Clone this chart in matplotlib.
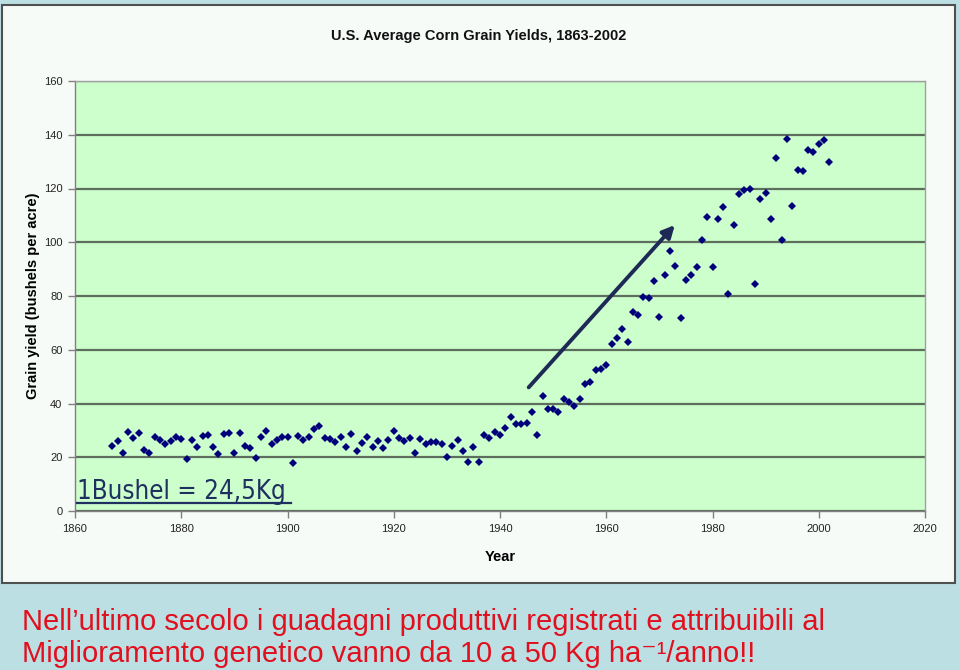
import matplotlib
matplotlib.use("Agg")
import matplotlib.pyplot as plt
from matplotlib.patches import Rectangle
from matplotlib.lines import Line2D
import numpy as np

# ---------------- data ----------------
years = list(range(1867, 2003))
yields = [
    24.2, 26.0, 21.5, 29.3, 27.0, 29.1, 22.7, 21.7, 27.4, 26.3,   # 1867-1876
    25.0, 25.9, 27.7, 26.9, 19.3, 26.3, 23.8, 28.0, 28.3, 23.8,   # 1877-1886
    21.3, 28.7, 28.9, 21.7, 29.0, 24.2, 23.4, 19.6, 27.7, 29.9,   # 1887-1896
    24.8, 26.3, 27.7, 27.7, 18.0, 28.0, 26.5, 27.7, 30.5, 31.6,   # 1897-1906
    27.0, 26.8, 25.7, 27.7, 23.8, 28.8, 22.4, 25.2, 27.7, 23.8,   # 1907-1916
    26.0, 23.4, 26.3, 29.6, 27.3, 25.9, 27.3, 21.7, 26.9, 25.1,   # 1917-1926
    25.8, 25.8, 25.1, 20.0, 24.2, 26.3, 22.4, 18.3, 23.8, 18.3,   # 1927-1936
    28.4, 27.3, 29.4, 28.4, 30.8, 35.0, 32.2, 32.5, 32.7, 36.7,   # 1937-1946
    28.4, 42.7, 37.8, 37.8, 36.7, 41.7, 40.6, 39.2, 41.7, 47.1,   # 1947-1956
    47.9, 52.5, 52.8, 54.4, 62.0, 64.5, 67.7, 62.8, 73.9, 72.8,   # 1957-1966
    79.7, 79.4, 85.7, 72.2, 87.8, 96.7, 91.3, 71.8, 86.1, 87.8,   # 1967-1976
    90.7, 101.0, 109.4, 90.9, 108.7, 113.1, 80.9, 106.4, 118.0, 119.4,  # 1977-1986
    119.8, 84.3, 116.2, 118.5, 108.7, 131.5, 100.7, 138.4, 113.5, 127.0,  # 1987-1996
    126.6, 134.3, 133.6, 136.7, 138.0, 129.9,                        # 1997-2002
]
assert len(years) == len(yields)

x_ticks = [1860, 1880, 1900, 1920, 1940, 1960, 1980, 2000, 2020]
y_ticks = [0, 20, 40, 60, 80, 100, 120, 140, 160]

arrow_start = (1945.4, 46.0)
arrow_end = (1972.9, 106.4)

title = "U.S. Average Corn Grain Yields, 1863-2002"
x_label = "Year"
y_label = "Grain yield (bushels per acre)"
note = "1Bushel = 24,5Kg"
caption1 = "Nell\u2019ultimo secolo i guadagni produttivi registrati e attribuibili al"
caption2 = "Miglioramento genetico vanno da 10 a 50 Kg ha\u207b\u00b9/anno!!"

SANS = ["Liberation Sans", "DejaVu Sans"]

# ---------------- figure ----------------
W, H = 960, 670
fig = plt.figure(figsize=(W / 100, H / 100), dpi=100)
fig.patch.set_facecolor("#BCDFE4")

def fx(px):
    return px / W

def fy(py):
    return 1 - py / H

# chart area (white panel)
panel = Rectangle((fx(2), fy(583)), fx(953), (583 - 5) / H, transform=fig.transFigure,
                  facecolor="#F7FBF8", edgecolor="#505050", linewidth=1.5, zorder=-10)
fig.add_artist(panel)

ax = fig.add_axes([fx(75), fy(511), fx(925) - fx(75), (511 - 81) / H])
ax.set_zorder(1)
ax.set_facecolor("#CCFFCC")
ax.set_xlim(1860, 2020)
ax.set_ylim(0, 160)
ax.set_xticks(x_ticks)
ax.set_yticks(y_ticks)
ax.yaxis.grid(True, color="#5E6E5E", linewidth=1.6)
ax.set_axisbelow(True)
for s in ["left", "bottom"]:
    ax.spines[s].set_color("#808080")
    ax.spines[s].set_linewidth(1.0)
for s in ["top", "right"]:
    ax.spines[s].set_color("#A0A0A0")
    ax.spines[s].set_linewidth(1.0)
ax.tick_params(axis="both", direction="out", length=5, width=1, color="#808080",
               labelsize=8, labelcolor="#222222", pad=4)
for lab in ax.get_xticklabels() + ax.get_yticklabels():
    lab.set_family(SANS)

ax.plot(years, yields, linestyle="none", marker="D", markersize=4.0,
        color="#00007A", markeredgewidth=0, zorder=3)

ax.annotate("", xy=arrow_end, xytext=arrow_start,
            arrowprops=dict(arrowstyle="-|>", color="#1E2A55", lw=2.8,
                            mutation_scale=18, shrinkA=0, shrinkB=0), zorder=4)

ax.set_xlabel(x_label, fontsize=10.5, fontweight="bold", family=SANS, labelpad=12)
ax.set_ylabel(y_label, fontsize=10.5, fontweight="bold", family=SANS, labelpad=3)

fig.text(fx(479), fy(36), title, ha="center", va="center", fontsize=10.5,
         fontweight="bold", family=SANS, color="#111111")

# note with underline
t_note = fig.text(fx(77), fy(499), note, ha="left", va="baseline", fontsize=18.5,
                  family=["DejaVu Sans"], fontstretch="condensed", color="#1F2F5F",
                  zorder=5)
fig.canvas.draw()
bb = t_note.get_window_extent(renderer=fig.canvas.get_renderer())
fig.add_artist(Line2D([bb.x0 / W, fx(291)], [fy(503), fy(503)], transform=fig.transFigure,
                      color="#1F2F5F", linewidth=1.6, zorder=5))

fig.text(fx(22), fy(630), caption1, ha="left", va="baseline", fontsize=21,
         family=SANS, color="#E0101E")
fig.text(fx(22), fy(662), caption2, ha="left", va="baseline", fontsize=21,
         family=SANS, color="#E0101E")

fig.savefig("out.png", dpi=100, facecolor=fig.get_facecolor())
